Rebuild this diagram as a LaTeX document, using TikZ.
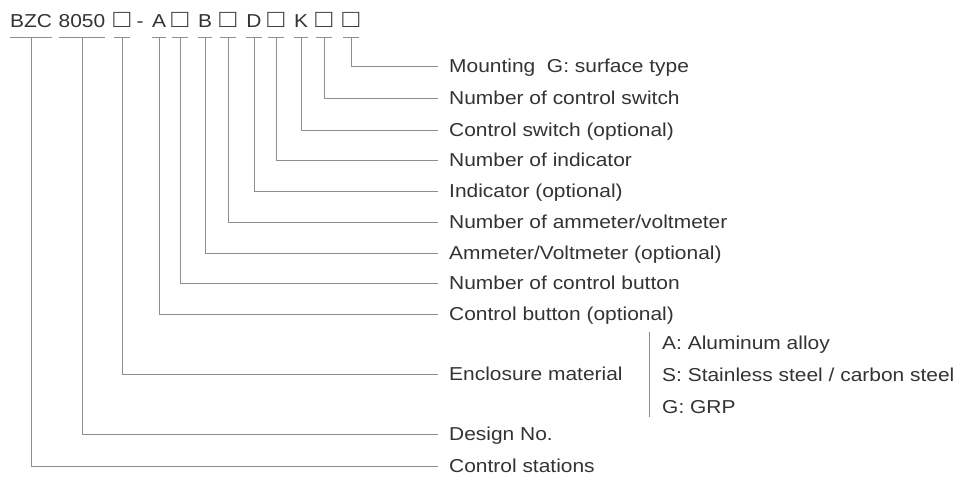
\documentclass[tikz,border=0pt]{standalone}
\usepackage{fontspec}
\usepackage{graphicx}
\setmainfont{Liberation Sans}[FakeStretch=1.12]
\definecolor{txtc}{HTML}{333333}
\definecolor{linec}{HTML}{8E8E8E}
\newcommand\labfont{\fontsize{18.7}{22}\selectfont}
\newcommand\bx{\makebox[15pt]{\scalebox{1.35}{□}}}
\tikzset{
  txt/.style={inner sep=0pt, text height=13.4pt, text depth=0pt, text=txtc, font=\labfont},
  topel/.style={txt, anchor=base},
  lab/.style={txt, anchor=west, inner xsep=11pt, inner ysep=0pt},
  opt/.style={txt, anchor=west},
  ln/.style={draw=linec, line width=0.9pt},
}
\begin{document}
\begin{tikzpicture}[x=1pt,y=1pt]
\useasboundingbox (0,0) rectangle (965,-476);
% top code
\node[topel] (bzc) at (31,-28) {BZC};
\node[topel] (n8050) at (82,-28) {8050};
\node[topel] (b1) at (122,-28) {\bx};
\node[topel] (dash) at (140,-28) {-};
\node[topel] (cA) at (159,-28) {A};
\node[topel] (b2) at (180,-28) {\bx};
\node[topel] (cB) at (205,-28) {B};
\node[topel] (b3) at (228,-28) {\bx};
\node[topel] (cD) at (254,-28) {D};
\node[topel] (b4) at (276,-28) {\bx};
\node[topel] (cK) at (301,-28) {K};
\node[topel] (b5) at (324,-28) {\bx};
\node[topel] (b6) at (351,-28) {\bx};
% labels
\node[lab] (l1) at (438,-66) {Mounting\ \ G: surface type};
\node[lab] (l2) at (438,-98) {Number of control switch};
\node[lab] (l3) at (438,-130) {Control switch (optional)};
\node[lab] (l4) at (438,-160) {Number of indicator};
\node[lab] (l5) at (438,-191) {Indicator (optional)};
\node[lab] (l6) at (438,-222) {Number of ammeter/voltmeter};
\node[lab] (l7) at (438,-253) {Ammeter/Voltmeter (optional)};
\node[lab] (l8) at (438,-283) {Number of control button};
\node[lab] (l9) at (438,-314) {Control button (optional)};
\node[lab] (l10) at (438,-374) {Enclosure material};
\node[lab] (l11) at (438,-434) {Design No.};
\node[lab] (l12) at (438,-466) {Control stations};
% options
\node[opt] (oA) at (662,-343) {A: Aluminum alloy};
\node[opt] (oS) at (662,-375) {S: Stainless steel / carbon steel};
\node[opt] (oG) at (662,-407) {G: GRP};
\draw[ln] (649,-332) -- (649,-417);
% underlines
\foreach \n in {bzc,n8050,b1,cA,b2,cB,b3,cD,b4,cK,b5,b6}
  \draw[ln] ([yshift=-9pt]\n.south west) -- ([yshift=-9pt]\n.south east);
% connectors
\draw[ln] ([yshift=-9pt]b6.south) |- (l1.west);
\draw[ln] ([yshift=-9pt]b5.south) |- (l2.west);
\draw[ln] ([yshift=-9pt]cK.south) |- (l3.west);
\draw[ln] ([yshift=-9pt]b4.south) |- (l4.west);
\draw[ln] ([yshift=-9pt]cD.south) |- (l5.west);
\draw[ln] ([yshift=-9pt]b3.south) |- (l6.west);
\draw[ln] ([yshift=-9pt]cB.south) |- (l7.west);
\draw[ln] ([yshift=-9pt]b2.south) |- (l8.west);
\draw[ln] ([yshift=-9pt]cA.south) |- (l9.west);
\draw[ln] ([yshift=-9pt]b1.south) |- (l10.west);
\draw[ln] ([yshift=-9pt]n8050.south) |- (l11.west);
\draw[ln] ([yshift=-9pt]bzc.south) |- (l12.west);
\end{tikzpicture}
\end{document}
